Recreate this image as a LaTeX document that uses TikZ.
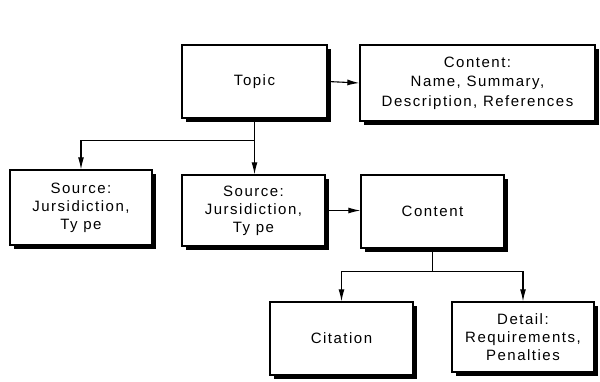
\documentclass[tikz,border=0pt]{standalone}
\usepackage{fontspec}
\setmainfont[LetterSpace=10]{Liberation Sans}
\usetikzlibrary{arrows.meta,shadows,calc}
\tikzset{
  box/.style={draw=black, line width=1.3pt, fill=white, align=center,
    font=\fontsize{15}{19.5}\selectfont, inner sep=2pt,
    drop shadow={shadow xshift=4pt, shadow yshift=-4pt, fill=black, opacity=1}},
  conn/.style={line width=1.1pt, draw=black},
  arr/.style={conn, -{Latex[length=12pt,width=6pt]}}
}
\begin{document}
\begin{tikzpicture}[x=1pt,y=-1pt]
\useasboundingbox (0,0) rectangle (600,381);
\node[box, minimum width=145pt, minimum height=73pt] (topic) at (254.5,81.5) {Topic};
\node[box, minimum width=235pt, minimum height=76pt] (ctop) at (477.5,83) {Content:\\Name, Summary,\\Description, References};
\node[box, minimum width=142pt, minimum height=75pt, font=\fontsize{15}{18}\selectfont] (src1) at (81,207.5) {Source:\\Jursidiction,\\Ty pe};
\node[box, minimum width=143pt, minimum height=71pt, font=\fontsize{15}{18}\selectfont] (src2) at (253.5,210.5) {Source:\\Jursidiction,\\Ty pe};
\node[box, minimum width=143pt, minimum height=73pt] (cmid) at (432.5,211.5) {Content};
\node[box, minimum width=143pt, minimum height=73pt] (cit) at (341.5,338.5) {Citation};
\node[box, minimum width=142pt, minimum height=70pt, font=\fontsize{15}{18}\selectfont] (det) at (523,337) {Detail:\\Requirements,\\Penalties};

\draw[arr] (topic.east) -- (ctop.west);
\draw[arr] (src2.east) -- (src2.east -| cmid.west);

\coordinate (j1) at ($(topic.south)+(0,22)$);
\draw[conn] (topic.south) -- (j1);
\draw[arr] (j1) -| (src1.north);
\draw[arr] (j1) -- (j1 |- src2.north);

\coordinate (j2) at ($(cmid.south)+(0,23)$);
\draw[conn] (cmid.south) -- (j2);
\draw[arr] (j2) -| (cit.north);
\draw[arr] (j2) -| (det.north);
\end{tikzpicture}
\end{document}
